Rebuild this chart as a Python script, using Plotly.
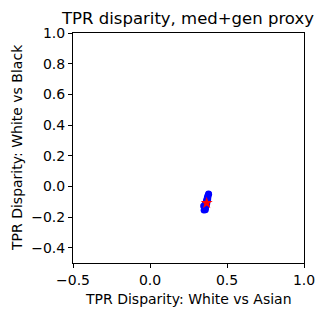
import plotly.graph_objects as go

# Bootstrap samples of TPR disparities
white_vs_asian = [0.352, 0.355, 0.358, 0.361, 0.364, 0.367, 0.370, 0.373, 0.377, 0.380,
                  0.350, 0.358, 0.364, 0.370, 0.376, 0.382, 0.362, 0.368, 0.374, 0.347,
                  0.356, 0.366, 0.378, 0.360]
white_vs_black = [-0.150, -0.138, -0.126, -0.114, -0.102, -0.090, -0.078, -0.066, -0.056, -0.048,
                  -0.156, -0.150, -0.130, -0.112, -0.086, -0.052, -0.142, -0.106, -0.074, -0.128,
                  -0.118, -0.096, -0.070, -0.155]
point_x = [0.368]
point_y = [-0.109]

x_ticks = [-0.5, 0.0, 0.5, 1.0]
x_labels = ["−0.5", "0.0", "0.5", "1.0"]
y_ticks = [-0.4, -0.2, 0.0, 0.2, 0.4, 0.6, 0.8, 1.0]
y_labels = ["−0.4", "−0.2", "0.0", "0.2", "0.4", "0.6", "0.8", "1.0"]

fig = go.Figure()
fig.add_trace(go.Scatter(x=white_vs_asian, y=white_vs_black, mode="markers",
                         marker=dict(color="blue", size=6.5, line=dict(width=0)),
                         showlegend=False))
fig.add_trace(go.Scatter(x=point_x, y=point_y, mode="markers",
                         marker=dict(color="red", size=9, symbol="star", line=dict(width=0)),
                         showlegend=False))

# page body has an 8px margin, so the figure is 8px smaller than the window
W, H = 317, 308
L, R, T, B = 65, 21, 25, 53
font = dict(family="DejaVu Sans", color="black", size=14)
axis_common = dict(showline=True, linecolor="black", linewidth=1, mirror=True,
                   ticks="outside", ticklen=4, tickcolor="black", showgrid=False,
                   zeroline=False, tickfont=font, automargin=False)
fig.update_layout(
    width=W, height=H,
    margin=dict(l=L, r=R, t=T, b=B),
    plot_bgcolor="white", paper_bgcolor="white",
    font=font,
    title=dict(text="TPR disparity, med+gen proxy", x=180 / W, xanchor="center",
               y=1 - 10 / H, yanchor="middle", yref="container",
               font=dict(family="DejaVu Sans", size=16.5, color="black")),
    xaxis=dict(range=[-0.5, 1.0], tickvals=x_ticks, ticktext=x_labels, **axis_common),
    yaxis=dict(range=[-0.5, 1.0], tickvals=y_ticks, ticktext=y_labels, **axis_common),
    annotations=[
        dict(text="TPR Disparity: White vs Asian", xref="paper", yref="paper",
             x=0.5, y=-(291 - (H - B)) / (H - T - B), xanchor="center", yanchor="middle",
             showarrow=False, font=font),
        dict(text="TPR Disparity: White vs Black", xref="paper", yref="paper",
             x=(9 - L) / (W - L - R), y=0.5, xanchor="center", yanchor="middle",
             textangle=-90, showarrow=False, font=font),
    ],
)
fig.write_html("out.html")
